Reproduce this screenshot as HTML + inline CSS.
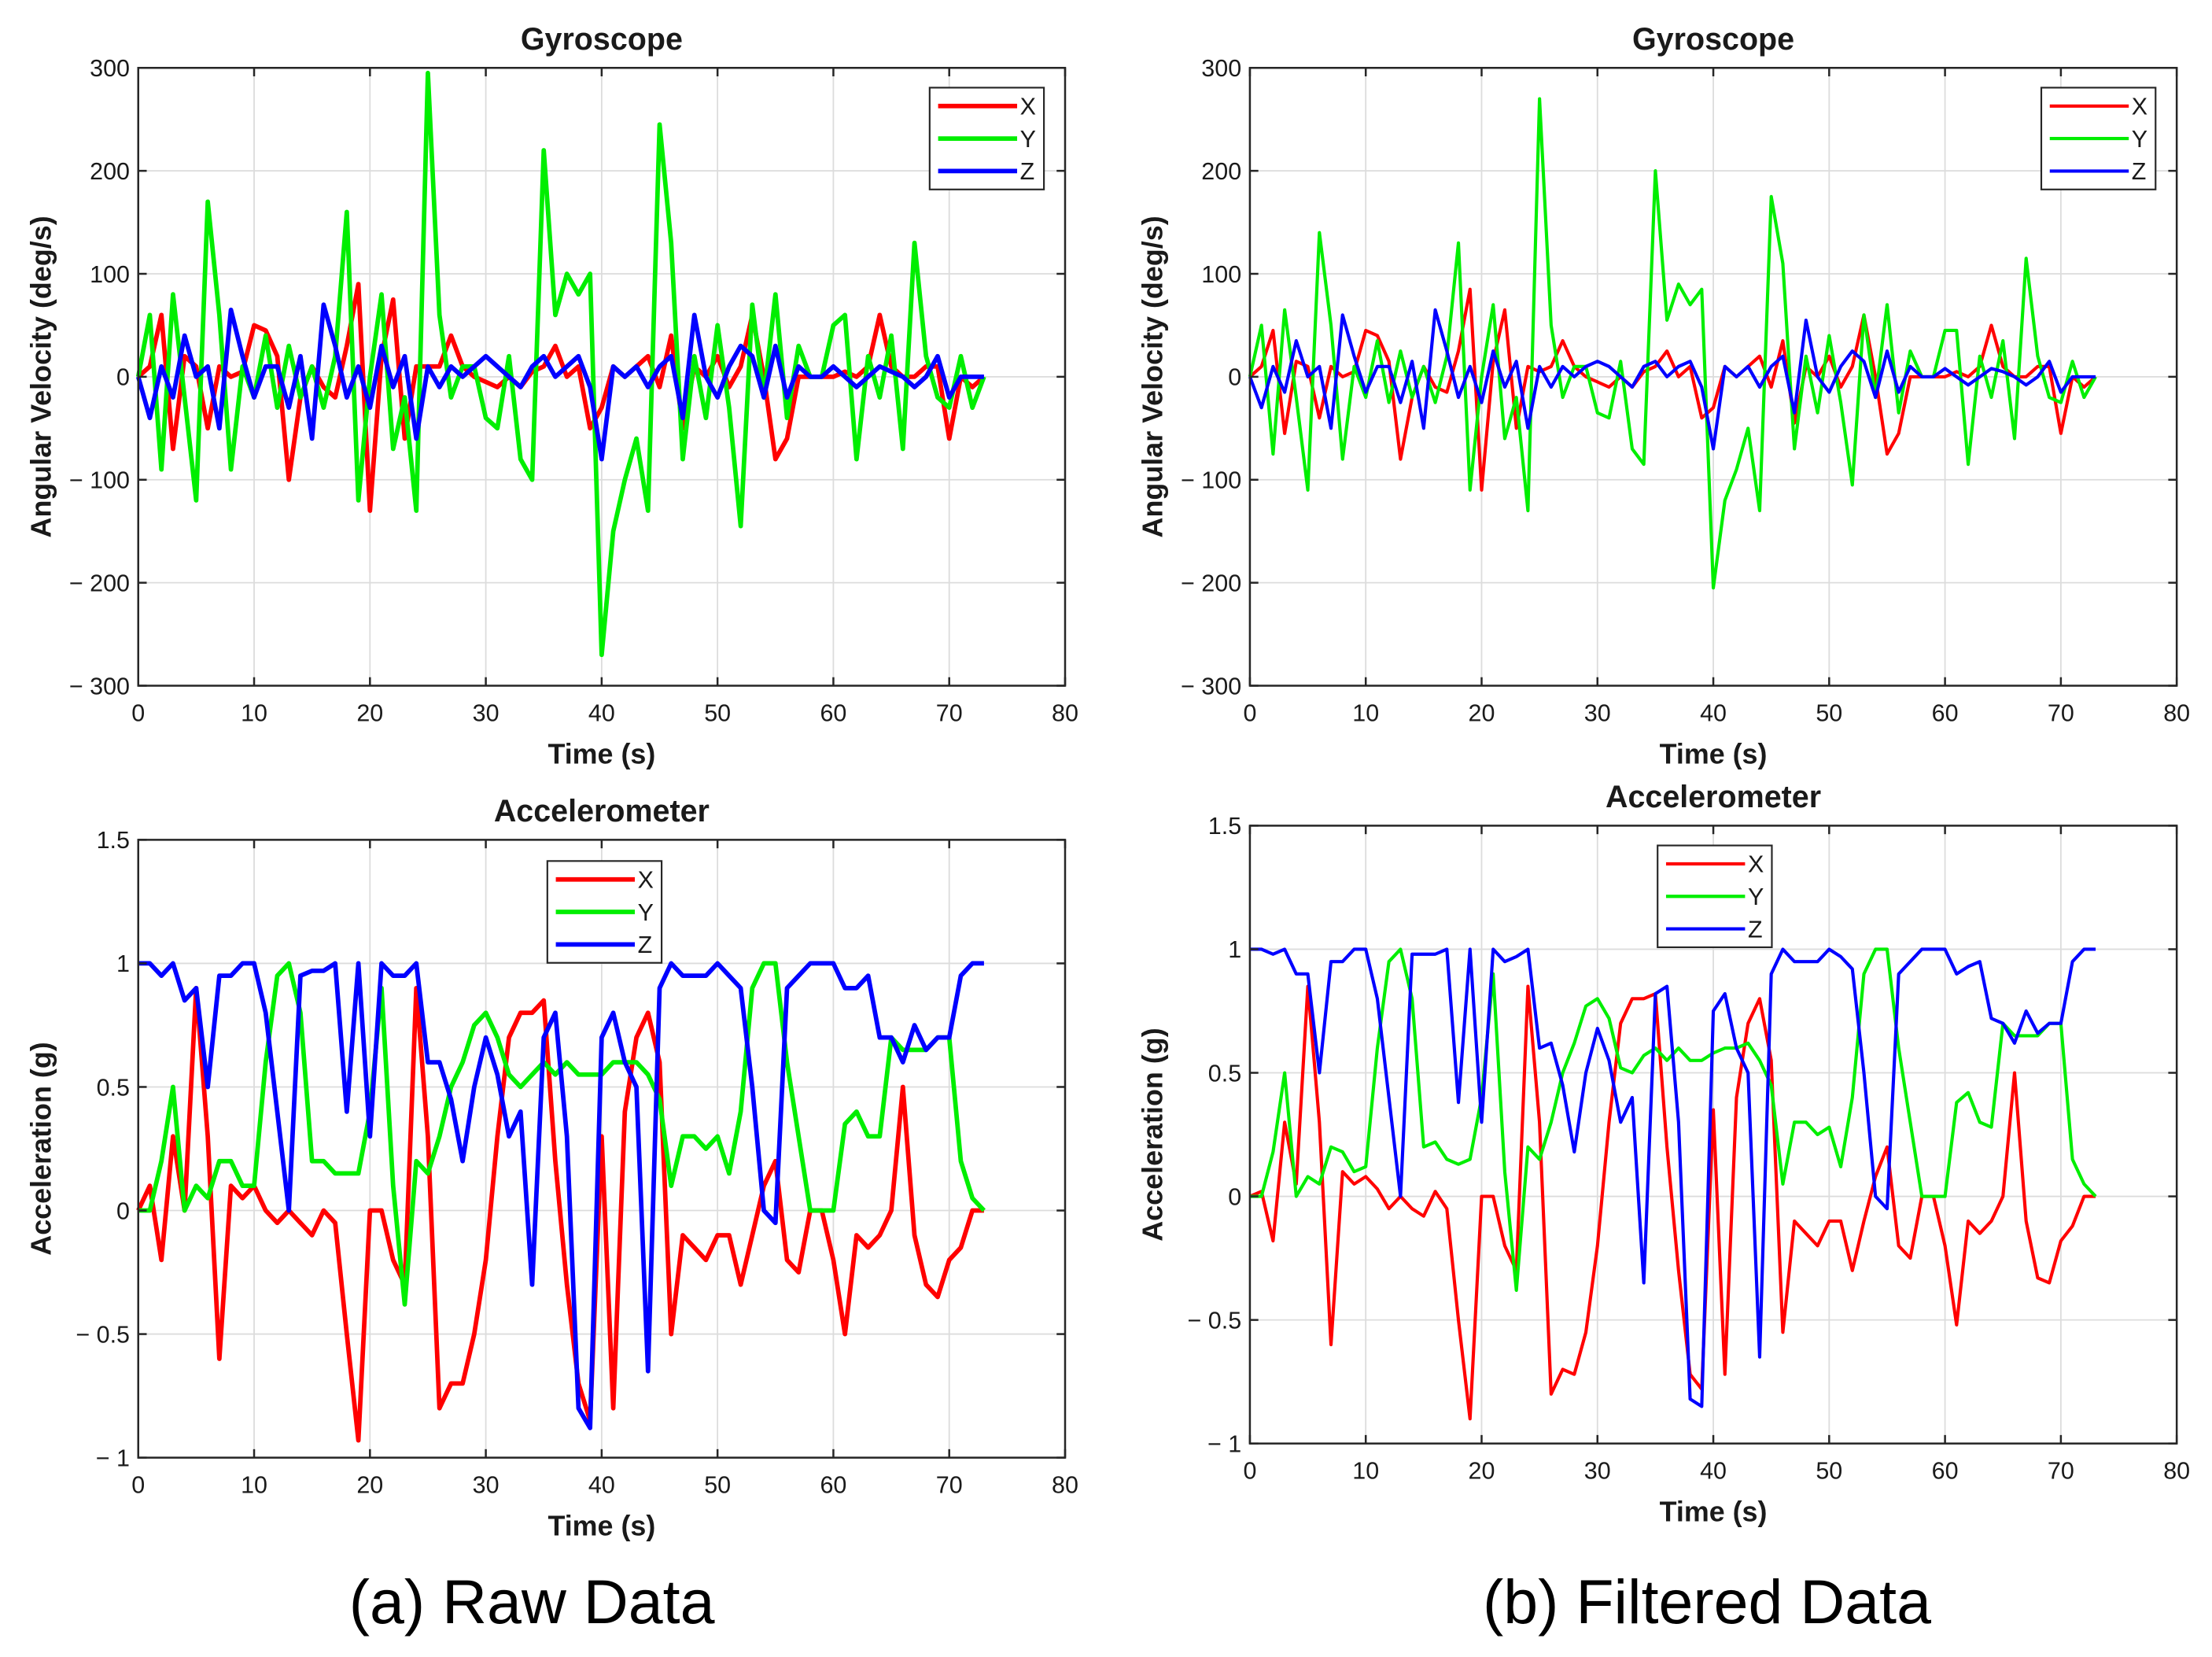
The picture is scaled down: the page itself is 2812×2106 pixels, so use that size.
<!DOCTYPE html>
<html><head><meta charset="utf-8"><style>
html,body{margin:0;padding:0;background:#fff}
svg{display:block}
text{font-family:"Liberation Sans",sans-serif;fill:#1a1a1a}
</style></head><body>
<svg id="fig" width="2812" height="2106" viewBox="0 0 1568 1172" preserveAspectRatio="none" xmlns="http://www.w3.org/2000/svg">
<text x="377" y="1148" font-size="44" text-anchor="middle" style="fill:#000">(a) Raw Data</text>
<text x="1210" y="1148" font-size="44" text-anchor="middle" style="fill:#000">(b) Filtered Data</text>
</svg>
<script>
const time = [];
for (let t = 0; t <= 73; t++) time.push(t);
const gyroXTicks = [0,10,20,30,40,50,60,70,80];
const gyroYTicks = [300,200,100,0,-100,-200,-300];
const gyroYTickLabels = ["300","200","100","0","\u2212 100","\u2212 200","\u2212 300"];
const accYTicks = [1.5,1,0.5,0,-0.5,-1];
const accYTickLabels = ["1.5","1","0.5","0","\u2212 0.5","\u2212 1"];
const seriesNames = ["X","Y","Z"];

const rawGyroX = [0,10,60,-70,20,10,-50,10,0,5,50,45,20,-100,-20,10,-10,-20,30,90,-130,20,75,-60,10,10,10,40,10,0,-5,-10,0,-10,5,10,30,0,10,-50,-30,10,0,10,20,-10,40,-50,10,0,20,-10,10,60,0,-80,-60,0,0,0,0,5,0,10,60,10,0,0,10,10,-60,0,-10,0];
const rawGyroY = [0,60,-90,80,-20,-120,170,60,-90,10,-20,40,-30,30,-20,10,-30,20,160,-120,0,80,-70,-20,-130,295,60,-20,10,10,-40,-50,20,-80,-100,220,60,100,80,100,-270,-150,-100,-60,-130,245,130,-80,20,-40,50,-30,-145,70,-20,80,-40,30,0,0,50,60,-80,20,-20,40,-70,130,20,-20,-30,20,-30,0];
const rawGyroZ = [0,-40,10,-20,40,0,10,-50,65,20,-20,10,10,-30,20,-60,70,30,-20,10,-30,30,-10,20,-60,10,-10,10,0,10,20,10,0,-10,10,20,0,10,20,-10,-80,10,0,10,-10,10,20,-40,60,0,-20,10,30,20,-20,30,-20,10,0,0,10,0,-10,0,10,5,0,-10,0,20,-20,0,0,0];
const filGyroX = [0,10,45,-55,15,10,-40,10,0,5,45,40,15,-80,-20,10,-10,-15,25,85,-110,15,65,-50,10,5,10,35,10,0,-5,-10,0,-10,5,10,25,0,10,-40,-30,10,0,10,20,-10,35,-45,10,0,20,-10,10,60,0,-75,-55,0,0,0,0,5,0,10,50,10,0,0,10,10,-55,0,-10,0];
const filGyroY = [0,50,-75,65,-20,-110,140,50,-80,10,-20,35,-25,25,-20,10,-25,20,130,-110,0,70,-60,-20,-130,270,50,-20,10,10,-35,-40,15,-70,-85,200,55,90,70,85,-205,-120,-90,-50,-130,175,110,-70,20,-35,40,-25,-105,60,-20,70,-35,25,0,0,45,45,-85,20,-20,35,-60,115,20,-20,-25,15,-20,0];
const filGyroZ = [0,-30,10,-15,35,0,10,-50,60,20,-15,10,10,-25,15,-50,65,25,-20,10,-25,25,-10,15,-50,10,-10,10,0,10,15,10,0,-10,10,15,0,10,15,-10,-70,10,0,10,-10,10,20,-35,55,0,-15,10,25,15,-20,25,-15,10,0,0,8,0,-8,0,8,5,0,-8,0,15,-15,0,0,0];
const rawAccX = [0,0.1,-0.2,0.3,0,0.9,0.3,-0.6,0.1,0.05,0.1,0,-0.05,0,-0.05,-0.1,0,-0.05,-0.5,-0.93,0,0,-0.2,-0.3,0.9,0.3,-0.8,-0.7,-0.7,-0.5,-0.2,0.3,0.7,0.8,0.8,0.85,0.2,-0.3,-0.7,-0.85,0.3,-0.8,0.4,0.7,0.8,0.6,-0.5,-0.1,-0.15,-0.2,-0.1,-0.1,-0.3,-0.1,0.1,0.2,-0.2,-0.25,0,0,-0.2,-0.5,-0.1,-0.15,-0.1,0,0.5,-0.1,-0.3,-0.35,-0.2,-0.15,0,0];
const rawAccY = [0,0,0.2,0.5,0,0.1,0.05,0.2,0.2,0.1,0.1,0.6,0.95,1,0.8,0.2,0.2,0.15,0.15,0.15,0.4,0.9,0.1,-0.38,0.2,0.15,0.3,0.5,0.6,0.75,0.8,0.7,0.55,0.5,0.55,0.6,0.55,0.6,0.55,0.55,0.55,0.6,0.6,0.6,0.55,0.45,0.1,0.3,0.3,0.25,0.3,0.15,0.4,0.9,1,1,0.6,0.3,0,0,0,0.35,0.4,0.3,0.3,0.7,0.65,0.65,0.65,0.7,0.7,0.2,0.05,0];
const rawAccZ = [1,1,0.95,1,0.85,0.9,0.5,0.95,0.95,1,1,0.8,0.4,0,0.95,0.97,0.97,1,0.4,1,0.3,1,0.95,0.95,1,0.6,0.6,0.45,0.2,0.5,0.7,0.55,0.3,0.4,-0.3,0.7,0.8,0.3,-0.8,-0.88,0.7,0.8,0.6,0.5,-0.65,0.9,1,0.95,0.95,0.95,1,0.95,0.9,0.5,0,-0.05,0.9,0.95,1,1,1,0.9,0.9,0.95,0.7,0.7,0.6,0.75,0.65,0.7,0.7,0.95,1,1];
const filAccX = [0,0.02,-0.18,0.3,0.05,0.85,0.3,-0.6,0.1,0.05,0.08,0.03,-0.05,0,-0.05,-0.08,0.02,-0.05,-0.5,-0.9,0,0,-0.2,-0.3,0.85,0.3,-0.8,-0.7,-0.72,-0.55,-0.2,0.3,0.7,0.8,0.8,0.82,0.2,-0.3,-0.72,-0.78,0.35,-0.72,0.4,0.7,0.8,0.55,-0.55,-0.1,-0.15,-0.2,-0.1,-0.1,-0.3,-0.1,0.08,0.2,-0.2,-0.25,0,0,-0.2,-0.52,-0.1,-0.15,-0.1,0,0.5,-0.1,-0.33,-0.35,-0.18,-0.12,0,0];
const filAccY = [0,0,0.18,0.5,0,0.08,0.05,0.2,0.18,0.1,0.12,0.6,0.95,1,0.8,0.2,0.22,0.15,0.13,0.15,0.4,0.9,0.1,-0.38,0.2,0.15,0.3,0.5,0.62,0.77,0.8,0.72,0.52,0.5,0.57,0.6,0.55,0.6,0.55,0.55,0.58,0.6,0.6,0.62,0.55,0.45,0.05,0.3,0.3,0.25,0.28,0.12,0.4,0.9,1,1,0.6,0.3,0,0,0,0.38,0.42,0.3,0.28,0.7,0.65,0.65,0.65,0.7,0.7,0.15,0.05,0];
const filAccZ = [1,1,0.98,1,0.9,0.9,0.5,0.95,0.95,1,1,0.8,0.4,0,0.98,0.98,0.98,1,0.38,1,0.3,1,0.95,0.97,1,0.6,0.62,0.45,0.18,0.5,0.68,0.55,0.3,0.4,-0.35,0.82,0.85,0.3,-0.82,-0.85,0.75,0.82,0.6,0.5,-0.65,0.9,1,0.95,0.95,0.95,1,0.97,0.92,0.5,0,-0.05,0.9,0.95,1,1,1,0.9,0.93,0.95,0.72,0.7,0.62,0.75,0.66,0.7,0.7,0.95,1,1];

const NS = "http://www.w3.org/2000/svg";
const svg = document.getElementById('fig');
const colors = ["#ff0000","#00ee00","#0000ff"];
function mk(tag, attrs, parent){
  const e = document.createElementNS(NS, tag);
  for (const k in attrs) e.setAttribute(k, attrs[k]);
  (parent||svg).appendChild(e);
  return e;
}
function txt(x,y,s,size,anchor,parent){
  const e = mk('text',{x:x,y:y,'font-size':size,'text-anchor':anchor||'middle'},parent);
  e.textContent = s;
  return e;
}
function panel(cfg){
  const {px,py,w,h,ymin,ymax,yticks,ylabels,title,ylabel,series,lw,leg,name} = cfg;
  const g = mk('g',{});
  
  
  const xs = v => px + (v-0)/80*w;
  const ys = v => py + (ymax-v)/(ymax-ymin)*h;
  mk('rect',{x:px,y:py,width:w,height:h,fill:'#fff'},g);
  gyroXTicks.forEach(t=>{
    const l = mk('line',{x1:xs(t),x2:xs(t),y1:py,y2:py+h,stroke:'#dcdcdc','stroke-width':1},g);
    
    
  });
  yticks.forEach(t=>{
    const l = mk('line',{x1:px,x2:px+w,y1:ys(t),y2:ys(t),stroke:'#dcdcdc','stroke-width':1},g);
    
    
  });
  series.forEach((arr,i)=>{
    const d = arr.map((v,k)=>(k?'L':'M')+xs(time[k]).toFixed(2)+' '+ys(v).toFixed(2)).join(' ');
    const p = mk('path',{d:d,fill:'none',stroke:colors[i],'stroke-width':lw,'stroke-linejoin':'round'},g);
    
    
  });
  const box = mk('rect',{x:px,y:py,width:w,height:h,fill:'none',stroke:'#262626','stroke-width':1.4},g);
  
  
  gyroXTicks.forEach(t=>{
    mk('line',{x1:xs(t),x2:xs(t),y1:py+h,y2:py+h-6,stroke:'#262626','stroke-width':1.4},g);
    mk('line',{x1:xs(t),x2:xs(t),y1:py,y2:py+6,stroke:'#262626','stroke-width':1.4},g);
    const tl = txt(xs(t),py+h+25,String(t),17,'middle',g);
    
    
  });
  yticks.forEach((t,i)=>{
    mk('line',{x1:px,x2:px+6,y1:ys(t),y2:ys(t),stroke:'#262626','stroke-width':1.4},g);
    mk('line',{x1:px+w,x2:px+w-6,y1:ys(t),y2:ys(t),stroke:'#262626','stroke-width':1.4},g);
    const tl = txt(px-6,ys(t)+6,ylabels[i],17,'end',g);
    
    
  });
  const tt = txt(px+w/2,py-13,title,22,'middle',g);
  tt.setAttribute('font-weight','600');
  
  
  const xl = txt(px+w/2,py+h+55,'Time (s)',20,'middle',g);
  xl.setAttribute('font-weight','600');
  
  
  const yl = txt(0,0,ylabel,20,'middle',g);
  yl.setAttribute('font-weight','600');
  yl.setAttribute('transform','translate('+(px-62)+','+(py+h/2)+') rotate(-90)');
  
  
  const lg = mk('g',{},g);
  
  
  mk('rect',{x:leg[0],y:leg[1],width:81,height:72,fill:'#fff',stroke:'#262626','stroke-width':1.2},lg);
  seriesNames.forEach((s,i)=>{
    const yy = leg[1]+13+i*23;
    const e = mk('g',{},lg);
    
    
    mk('line',{x1:leg[0]+6,x2:leg[0]+62,y1:yy,y2:yy,stroke:colors[i],'stroke-width':lw},e);
    txt(leg[0]+64,yy+6,s,17,'start',e);
  });
}
panel({name:'raw-gyroscope-chart',px:98,py:48,w:657,h:437,ymin:-300,ymax:300,yticks:gyroYTicks,ylabels:gyroYTickLabels,title:'Gyroscope',ylabel:'Angular Velocity (deg/s)',series:[rawGyroX,rawGyroY,rawGyroZ],lw:3.2,leg:[659,62]});
panel({name:'filtered-gyroscope-chart',px:886,py:48,w:657,h:437,ymin:-300,ymax:300,yticks:gyroYTicks,ylabels:gyroYTickLabels,title:'Gyroscope',ylabel:'Angular Velocity (deg/s)',series:[filGyroX,filGyroY,filGyroZ],lw:2.3,leg:[1447,62]});
panel({name:'raw-accelerometer-chart',px:98,py:594,w:657,h:437,ymin:-1,ymax:1.5,yticks:accYTicks,ylabels:accYTickLabels,title:'Accelerometer',ylabel:'Acceleration (g)',series:[rawAccX,rawAccY,rawAccZ],lw:3.2,leg:[388,609]});
panel({name:'filtered-accelerometer-chart',px:886,py:584,w:657,h:437,ymin:-1,ymax:1.5,yticks:accYTicks,ylabels:accYTickLabels,title:'Accelerometer',ylabel:'Acceleration (g)',series:[filAccX,filAccY,filAccZ],lw:2.3,leg:[1175,598]});
</script>
</body></html>
